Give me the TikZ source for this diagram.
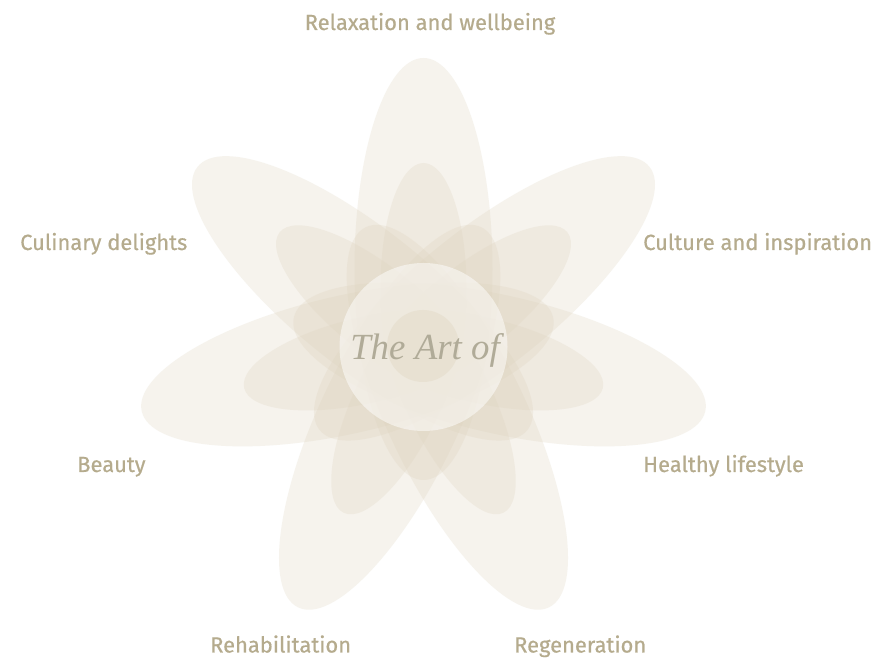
\documentclass[tikz,border=0pt]{standalone}
\usepackage{fontspec}
\setmainfont{Fira Sans}
\newfontfamily\lblfont[FakeBold=0.5]{Fira Sans}
\newfontfamily\artfont{Liberation Serif}
\definecolor{petalc}{HTML}{DED3BE}
\definecolor{labelc}{HTML}{B5AB8D}
\definecolor{artc}{HTML}{B0AB98}
\tikzset{
  outerpetal/.style={fill=petalc, fill opacity=0.27},
  innerpetal/.style={fill=petalc, fill opacity=0.27},
  hub/.style={fill=white, fill opacity=0.5},
  core/.style={fill=petalc, fill opacity=0.35},
  lbl/.style={inner sep=0pt, text=labelc, font=\lblfont\fontsize{22}{26}\selectfont, anchor=base west},
  arttext/.style={inner sep=0pt, text=artc, font=\artfont\itshape\fontsize{37}{40}\selectfont, anchor=base}
}
\begin{document}
\begin{tikzpicture}[x=1bp,y=1bp]
\path[use as bounding box, fill=white] (0,0) rectangle (879,658);
% outer petals
\foreach \k in {0,...,6}{
  \begin{scope}[shift={(423.5,311)}, rotate={90+\k*360/7}]
    \fill[outerpetal] (78,0) ellipse [x radius=211, y radius=69];
  \end{scope}
}
% inner petals
\foreach \k in {0,...,6}{
  \begin{scope}[shift={(423.5,311)}, rotate={90+\k*360/7}]
    \fill[innerpetal] (59,0) ellipse [x radius=125, y radius=43];
  \end{scope}
}
% hub
\fill[hub] (423.5,311) circle [radius=84];
\fill[core] (423,312) circle [radius=36];
\node[arttext] (art) at (425,298) {The Art of};
% labels
\node[lbl, anchor=base] (relax) at (430,628) {Relaxation and wellbeing};
\node[lbl] (culinary) at (20,408) {Culinary delights};
\node[lbl] (culture) at (643,408) {Culture and inspiration};
\node[lbl] (beauty) at (77,186) {Beauty};
\node[lbl] (healthy) at (643,186) {Healthy lifestyle};
\node[lbl] (rehab) at (210,5.5) {Rehabilitation};
\node[lbl] (regen) at (514,5.5) {Regeneration};
\end{tikzpicture}
\end{document}
